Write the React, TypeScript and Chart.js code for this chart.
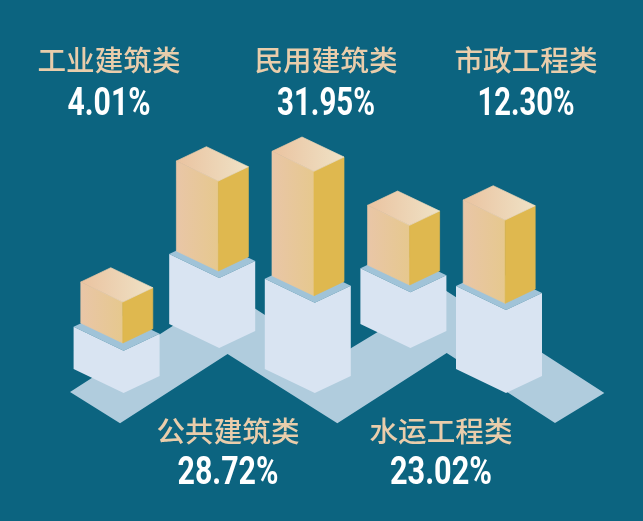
import { useEffect, useRef } from "react";
import { Chart, registerables } from "chart.js";

Chart.register(...registerables);

// Categories, left to right as the columns stand in the picture
const categories = ["工业建筑类", "公共建筑类", "民用建筑类", "水运工程类", "市政工程类"];
// Printed shares (%)
const shares = [4.01, 28.72, 31.95, 23.02, 12.3];
// Drawn heights, in axis units (the columns are not to scale with the shares)
const pedestalBase = [128, 173, 128, 173, 128];
const pedestalHeight = [42.3, 70, 90.3, 55.7, 83];
const columnBase = [178, 250, 225.3, 236, 217.7];
const columnTop = [219, 340, 349.7, 295.7, 301];
// Floor band edges: position along the category axis, level on the value axis
const floorPositions = [-0.552, -0.029, 1.096, 2.244, 3.388, 4.521, 5.037, 3.381, 2.199, 1.095];
const floorLevels = [129, 97.7, 167, 97.7, 168, 98, 128, 230.3, 162, 230.3];

const BG = "#0C6480";
const labelLayout = [
  { x: 109, yName: 60, yValue: 105, w: 83 },
  { x: 228, yName: 431, yValue: 474.5, w: 101 },
  { x: 326, yName: 60, yValue: 105, w: 98 },
  { x: 441, yName: 431, yValue: 474.5, w: 102 },
  { x: 526, yName: 60, yValue: 105, w: 97 },
];

function poly(ctx: CanvasRenderingContext2D, pts: number[][], fill: string | CanvasGradient, seal = false) {
  ctx.beginPath();
  pts.forEach((p, i) => (i ? ctx.lineTo(p[0], p[1]) : ctx.moveTo(p[0], p[1])));
  ctx.closePath();
  ctx.fillStyle = fill;
  ctx.fill();
  if (seal) {
    ctx.strokeStyle = fill;
    ctx.lineWidth = 0.7;
    ctx.lineJoin = "round";
    ctx.stroke();
  }
}

const isoPlugin = {
  id: "iso",
  beforeDraw(chart: any) {
    const { ctx, width, height } = chart;
    ctx.save();
    ctx.fillStyle = BG;
    ctx.fillRect(0, 0, width, height);
    ctx.restore();
  },
  beforeDatasetsDraw(chart: any) {
    const { ctx, scales } = chart;
    ctx.save();
    poly(
      ctx,
      floorPositions.map((p, i) => [scales.x.getPixelForValue(p), scales.y.getPixelForValue(floorLevels[i])]),
      "#B0CCDD"
    );
    const ped = chart.getDatasetMeta(0).data;
    const col = chart.getDatasetMeta(1).data;
    ped.forEach((el: any, i: number) => {
      const x = el.x + 0.8;
      const top = el.y;
      const bot = el.base;
      const L = 50, R = 36, dL = 24, dR = 17;
      poly(ctx, [[x - L, top - dL], [x - L + R, top - dL - dR], [x + R, top - dR], [x, top]], "#A0C3D8");
      poly(ctx, [[x - L, top - dL], [x, top], [x + R, top - dR], [x + R, bot - dR], [x, bot], [x - L, bot - dL]], "#D9E4F2");

      const c = col[i];
      const cx = c.x;
      const ct = c.y;
      const cb = c.base;
      const l = 42, r = 30, dl = 20, dr = 14.3;
      const gLeft = ctx.createLinearGradient(cx - l, 0, cx, 0);
      gLeft.addColorStop(0, "#E9C6A7");
      gLeft.addColorStop(1, "#E6C88E");
      poly(ctx, [[cx - l, ct - dl], [cx, ct], [cx, cb], [cx - l, cb - dl]], gLeft, true);
      poly(ctx, [[cx, ct], [cx + r, ct - dr], [cx + r, cb - dr], [cx, cb]], "#DFB84F", true);
      const gTop = ctx.createLinearGradient(cx - l, 0, cx + r, 0);
      gTop.addColorStop(0, "#EAC3A0");
      gTop.addColorStop(1, "#EFE2C6");
      poly(ctx, [[cx - l, ct - dl], [cx - l + r, ct - dl - dr], [cx + r, ct - dr], [cx, ct]], gTop, true);
    });
    ctx.restore();
  },
  afterDatasetsDraw(chart: any) {
    const { ctx } = chart;
    ctx.save();
    ctx.textAlign = "center";
    ctx.textBaseline = "middle";
    categories.forEach((name, i) => {
      const p = labelLayout[i];
      ctx.font = '500 28.6px "Noto Sans CJK SC"';
      ctx.fillStyle = "#E9CDAB";
      ctx.fillText(name, p.x, p.yName);
      ctx.font = "700 38px Roboto";
      ctx.fillStyle = "#FFFFFF";
      ctx.fillText(shares[i].toFixed(2) + "%", p.x, p.yValue, p.w);
    });
    ctx.restore();
  },
};

export default function App() {
  const ref = useRef<HTMLCanvasElement>(null);
  useEffect(() => {
    if (!ref.current) return;
    const chart = new Chart(ref.current, {
      type: "bar",
      data: {
        labels: categories,
        datasets: [
          {
            label: "底座",
            data: pedestalBase.map((b, i) => [b, b + pedestalHeight[i]]),
            backgroundColor: "rgba(0,0,0,0)",
            borderWidth: 0,
          },
          {
            label: "占比",
            data: columnBase.map((b, i) => [b, columnTop[i]]),
            backgroundColor: "rgba(0,0,0,0)",
            borderWidth: 0,
          },
        ],
      },
      options: {
        animation: false,
        responsive: false,
        layout: { padding: { left: 75, right: 90, top: 0, bottom: 0 } },
        datasets: { bar: { grouped: false } },
        plugins: { legend: { display: false }, tooltip: { enabled: false }, title: { display: false } },
        scales: {
          x: { display: false, type: "category" },
          y: { display: false, min: 0, max: 521 },
        },
      },
      plugins: [isoPlugin],
    } as any);
    return () => chart.destroy();
  }, []);
  return (
    <div style={{ position: "fixed", left: 0, top: 0, width: 643, height: 521, background: BG }}>
      <canvas ref={ref} width={643} height={521} style={{ display: "block", width: 643, height: 521 }} />
    </div>
  );
}
